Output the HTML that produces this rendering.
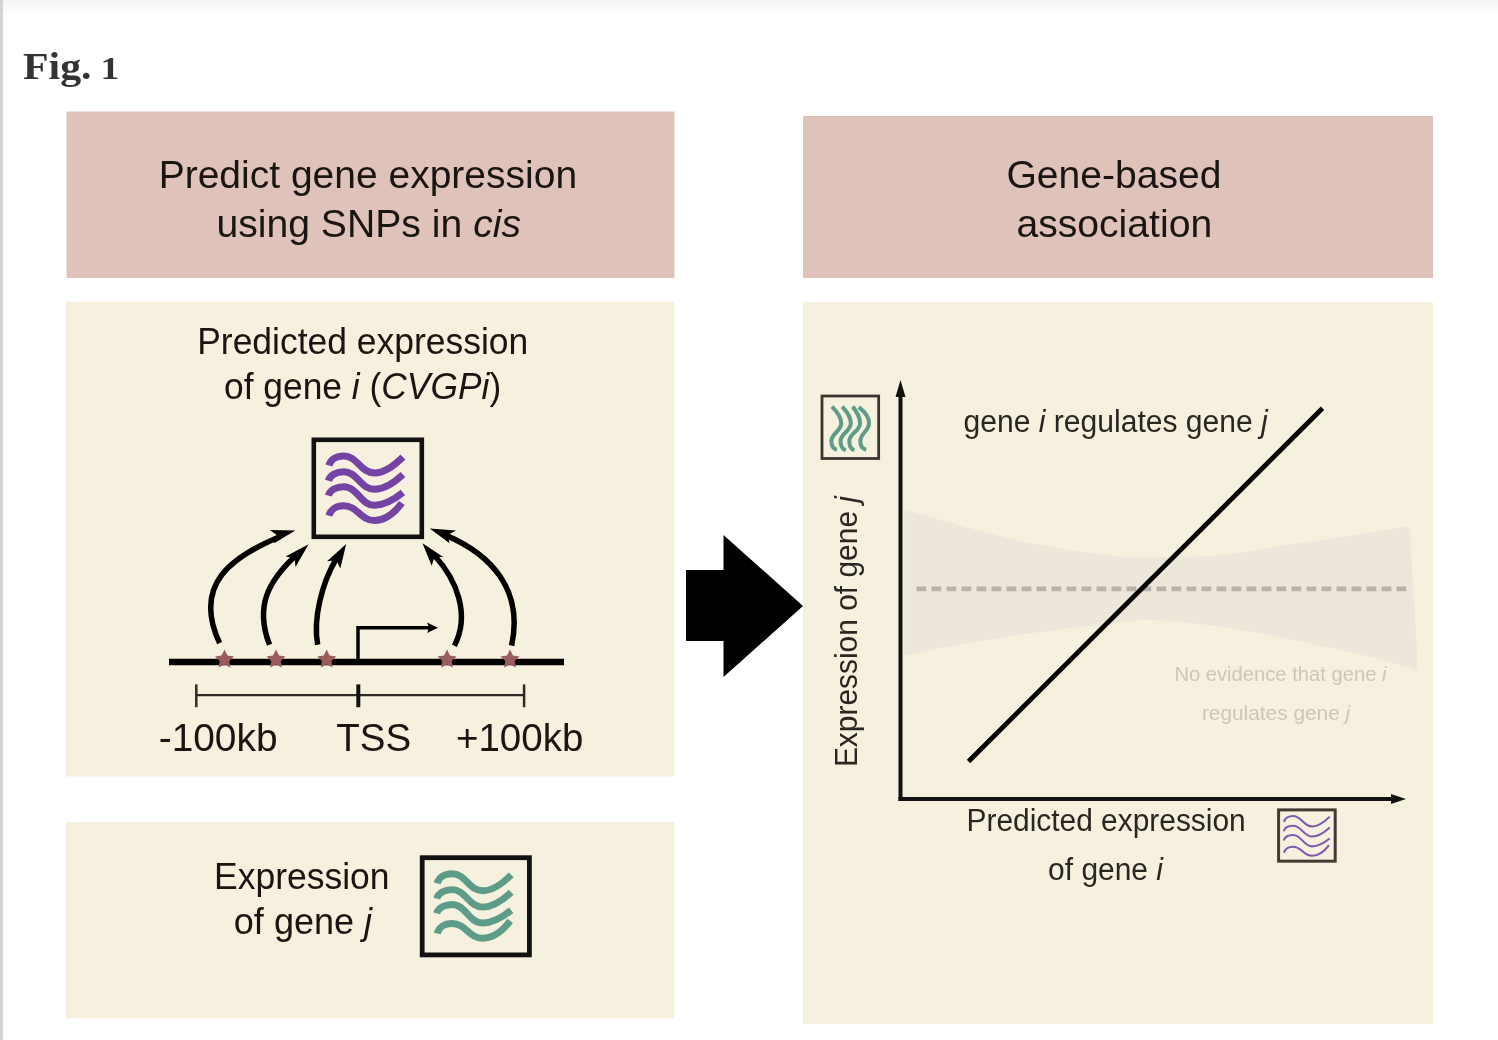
<!DOCTYPE html>
<html>
<head>
<meta charset="utf-8">
<style>
html,body{margin:0;padding:0;background:#fff;}
body{width:1498px;height:1040px;overflow:hidden;position:relative;font-family:"Liberation Sans",sans-serif;}
svg{position:absolute;left:0;top:0;filter:blur(0.45px);}
</style>
</head>
<body>
<svg width="1498" height="1040" viewBox="0 0 1498 1040">
<defs>
<linearGradient id="topg" x1="0" y1="0" x2="0" y2="1">
<stop offset="0" stop-color="#f5f5f5"/>
<stop offset="1" stop-color="#ffffff"/>
</linearGradient>
<filter id="sblur" x="-20%" y="-20%" width="140%" height="140%"><feGaussianBlur stdDeviation="0.7"/></filter>
<g id="waves">
<path d="M17.4 28 C19 22 25 18.5 32.2 18.5 C46 18.5 49 35.4 62.9 35.4 C74 35.4 84 27 91.4 19.5"/>
<path d="M16.9 43.3 C18.5 37.5 25 34.3 32.2 34.3 C46 34.3 49 51.8 62.9 51.8 C74 51.8 84 44 91.4 37"/>
<path d="M16.9 58.1 C18.5 52.5 25 49.2 32.2 49.2 C46 49.2 49 67.7 62.9 67.7 C74 67.7 84 61 91.4 55"/>
<path d="M17.4 78.2 C19 72 25 68.2 32.2 68.2 C46 68.2 49 83 62.9 83 C74 83 84 74 90.4 65.5"/>
</g>
</defs>
<rect x="0" y="0" width="1498" height="16" fill="url(#topg)"/>
<rect x="0" y="0" width="3" height="1040" fill="#d4d4d4"/>

<text id="t1" x="23.0" y="79" font-family="Liberation Serif" font-weight="bold" font-size="37" fill="#333" textLength="68.6" lengthAdjust="spacingAndGlyphs">Fig.</text>
<text id="t19" transform="translate(100.5 78.9) scale(1.02 0.845)" x="0" y="0" font-family="Liberation Serif" font-weight="bold" font-size="37" fill="#333">1</text>

<!-- panels -->
<rect x="66.5" y="111.5" width="608" height="166.5" fill="#dfc3bb"/>
<rect x="66" y="301.5" width="608.5" height="475" fill="#f6f0de"/>
<rect x="66" y="822" width="608.5" height="196.5" fill="#f6f0de"/>
<rect x="803" y="116" width="630" height="162" fill="#dfc3bb"/>
<rect x="803" y="301.8" width="630" height="722" fill="#f6f0de"/>

<g font-family="Liberation Sans" fill="#1a1512">
<text id="t2" x="158.7" y="188.2" font-size="38.5" textLength="418.4" lengthAdjust="spacingAndGlyphs">Predict gene expression</text>
<text id="t3" x="216.4" y="236.8" font-size="38.5" textLength="304.6" lengthAdjust="spacingAndGlyphs">using SNPs in <tspan font-style="italic">cis</tspan></text>
<text id="t4" x="1006.4" y="187.6" font-size="38.5" textLength="215.1" lengthAdjust="spacingAndGlyphs">Gene-based</text>
<text id="t5" x="1016.4" y="236.7" font-size="38.5" textLength="195.8" lengthAdjust="spacingAndGlyphs">association</text>

<text id="t6" x="197.2" y="353.7" font-size="36.5" textLength="331.1" lengthAdjust="spacingAndGlyphs">Predicted expression</text>
<text id="t7" x="224.0" y="398.5" font-size="36.5" textLength="277.2" lengthAdjust="spacingAndGlyphs">of gene <tspan font-style="italic">i</tspan> (<tspan font-style="italic">CVGPi</tspan>)</text>

<text id="t8" x="158.7" y="750.5" font-size="39" textLength="118.8" lengthAdjust="spacingAndGlyphs">-100kb</text>
<text id="t9" x="336.2" y="750.5" font-size="39" textLength="75.0" lengthAdjust="spacingAndGlyphs">TSS</text>
<text id="t10" x="456.0" y="750.5" font-size="39" textLength="127.3" lengthAdjust="spacingAndGlyphs">+100kb</text>

<text id="t11" x="214.0" y="888.7" font-size="36.5" textLength="175.6" lengthAdjust="spacingAndGlyphs">Expression</text>
<text id="t12" x="233.8" y="934.3" font-size="36.5" textLength="138.3" lengthAdjust="spacingAndGlyphs">of gene <tspan font-style="italic">j</tspan></text>

<text id="t13" x="963.5" y="431.5" font-size="31" fill="#2a2622" textLength="304.3" lengthAdjust="spacingAndGlyphs">gene <tspan font-style="italic">i</tspan> regulates gene <tspan font-style="italic">j</tspan></text>
<text id="t14" x="966.5" y="831.2" font-size="31" fill="#2a2622" textLength="279.2" lengthAdjust="spacingAndGlyphs">Predicted expression</text>
<text id="t15" x="1048.1" y="879.5" font-size="31" fill="#2a2622" textLength="114.9" lengthAdjust="spacingAndGlyphs">of gene <tspan font-style="italic">i</tspan></text>
<text id="t16" transform="translate(856.7 767.1) rotate(-90)" x="0" y="0" font-size="31" fill="#2a2622" textLength="271.1" lengthAdjust="spacingAndGlyphs">Expression of gene <tspan font-style="italic">j</tspan></text>
<text id="t17" x="1174.4" y="681.2" font-size="21" fill="#cbc5bc" textLength="212.1" lengthAdjust="spacingAndGlyphs">No evidence that gene <tspan font-style="italic">i</tspan></text>
<text id="t18" x="1201.9" y="719.6" font-size="21" fill="#cbc5bc" textLength="148.3" lengthAdjust="spacingAndGlyphs">regulates gene  <tspan font-style="italic">j</tspan></text>
</g>

<!-- big arrow -->
<polygon points="686,570 723.5,570 723.5,535 803,606 723.5,677 723.5,641 686,641" fill="#000"/>

<!-- left diagram -->
<g transform="translate(311.5 437.5)">
<rect x="2.3" y="2.3" width="108" height="97" fill="none" stroke="#111" stroke-width="4.6"/>
<use href="#waves" fill="none" stroke="#7443a3" stroke-width="7"/>
</g>
<line x1="169" y1="662" x2="564" y2="662" stroke="#000" stroke-width="6.5"/>
<polyline points="358,662 358,627.7 431,627.7" fill="none" stroke="#000" stroke-width="3.5"/>
<polygon points="438,627.7 427,622.5 429,627.7 427,633" fill="#000"/>
<!-- scale bar -->
<line x1="196.3" y1="695.2" x2="524.1" y2="695.2" stroke="#2d2a26" stroke-width="2.2"/>
<line x1="196.3" y1="684.4" x2="196.3" y2="707.2" stroke="#2d2a26" stroke-width="2.5"/>
<line x1="358.3" y1="684.4" x2="358.3" y2="707.2" stroke="#111" stroke-width="4"/>
<line x1="524.1" y1="684.4" x2="524.1" y2="707.2" stroke="#2d2a26" stroke-width="2.5"/>

<!-- curved arrows -->
<g fill="none" stroke="#000" stroke-width="5.5">
<path d="M219.6 643.2 C191.9 583.5 232.8 556.6 279.5 536.7"/>
<path d="M269.5 644.8 C254.2 605.2 269.6 579.8 295.8 555.5"/>
<path d="M317.7 644.8 C312.8 619.0 321.8 583.3 336.6 558.2"/>
<path d="M454.4 645.7 C470.5 614.7 456.7 579.6 434.4 555.5"/>
<path d="M511.6 645.7 C523.7 590.1 491.5 554.5 445.4 535.1"/>
</g>
<g fill="#000">
<polygon points="295.3,530.4 269.9,529.9 277.0,535.3 273.7,543.4"/>
<polygon points="308.6,544.3 285.6,556.6 294.5,557.9 295.5,567.0"/>
<polygon points="346.2,544.1 327.0,561.2 336.4,560.3 340.3,568.6"/>
<polygon points="422.5,543.3 443.3,557.1 434.2,557.5 431.7,565.8"/>
<polygon points="429.7,528.6 456.0,530.6 447.7,535.1 449.6,543.3"/>
</g>

<!-- stars -->
<g fill="#9a5b5d" filter="url(#sblur)">
<path id="star" d="M0.00 -10.00 L2.94 -4.05 L9.51 -3.09 L4.76 1.55 L5.88 8.09 L0.00 5.00 L-5.88 8.09 L-4.76 1.55 L-9.51 -3.09 L-2.94 -4.05 Z" transform="translate(224.5 659.5)"/>
<use href="#star" transform="translate(51.5 0)"/>
<use href="#star" transform="translate(102.2 0)"/>
<use href="#star" transform="translate(222.5 0)"/>
<use href="#star" transform="translate(285.5 0)"/>
</g>

<!-- bottom teal icon -->
<g transform="translate(419.8 855.3)">
<rect x="2.4" y="2.4" width="107.2" height="97.2" fill="none" stroke="#111" stroke-width="4.8"/>
<use href="#waves" fill="none" stroke="#5e9c8a" stroke-width="6.9"/>
</g>

<!-- right panel plot -->
<path d="M904.4 509.2 C911.6 511.3 927.7 516.2 947.7 521.7 C967.7 527.2 999.0 536.5 1024.6 541.9 C1050.2 547.3 1080.6 551.8 1101.5 554.4 C1122.4 557.0 1129.9 557.2 1150.0 557.3 C1170.1 557.4 1198.0 557.2 1222.0 555.0 C1246.0 552.8 1270.0 547.6 1294.0 544.0 C1318.0 540.4 1346.7 536.3 1366.0 533.3 C1385.3 530.3 1402.4 527.2 1409.7 526.0 L1418.0 670.3 C1409.3 667.9 1386.7 660.9 1366.0 655.9 C1345.3 650.9 1318.0 645.1 1294.0 640.3 C1270.0 635.5 1246.0 630.4 1222.0 627.0 C1198.0 623.6 1170.1 620.4 1150.0 620.0 C1129.9 619.6 1122.4 622.2 1101.5 624.6 C1080.6 627.0 1050.2 630.5 1024.6 634.2 C999.0 637.9 967.7 643.2 947.7 646.7 C927.7 650.2 911.6 654.0 904.4 655.4 Z" fill="#ece7da"/>
<line x1="916.5" y1="588.8" x2="1409" y2="588.8" stroke="#b8b3ac" stroke-width="4.8" stroke-dasharray="9.8 5.2"/>
<line x1="968.5" y1="761.5" x2="1322.5" y2="408.3" stroke="#000" stroke-width="4.8"/>
<line x1="900.5" y1="395" x2="900.5" y2="801" stroke="#111" stroke-width="4"/>
<polygon points="900.5,380 895.5,397 905.5,397" fill="#111"/>
<line x1="898.5" y1="799" x2="1393" y2="799" stroke="#111" stroke-width="4.2"/>
<polygon points="1406,799 1391,794 1391,804" fill="#111"/>

<!-- small vertical teal icon -->
<g transform="translate(820.6 459.9) rotate(-90) scale(0.583)">
<rect x="2.4" y="2.4" width="107.2" height="97.2" fill="none" stroke="#3a3530" stroke-width="4.8"/>
<use href="#waves" fill="none" stroke="#5e9c8a" stroke-width="6.9"/>
</g>
<!-- small purple icon -->
<g transform="translate(1277.1 808.4) scale(0.532)">
<rect x="2.8" y="2.8" width="106.4" height="96.4" fill="none" stroke="#403a33" stroke-width="5.6"/>
<use href="#waves" fill="none" stroke="#7d5aad" stroke-width="3.4" transform="translate(56 52) scale(1.16 1.16) translate(-54.5 -51)"/>
</g>
</svg>
</body>
</html>
